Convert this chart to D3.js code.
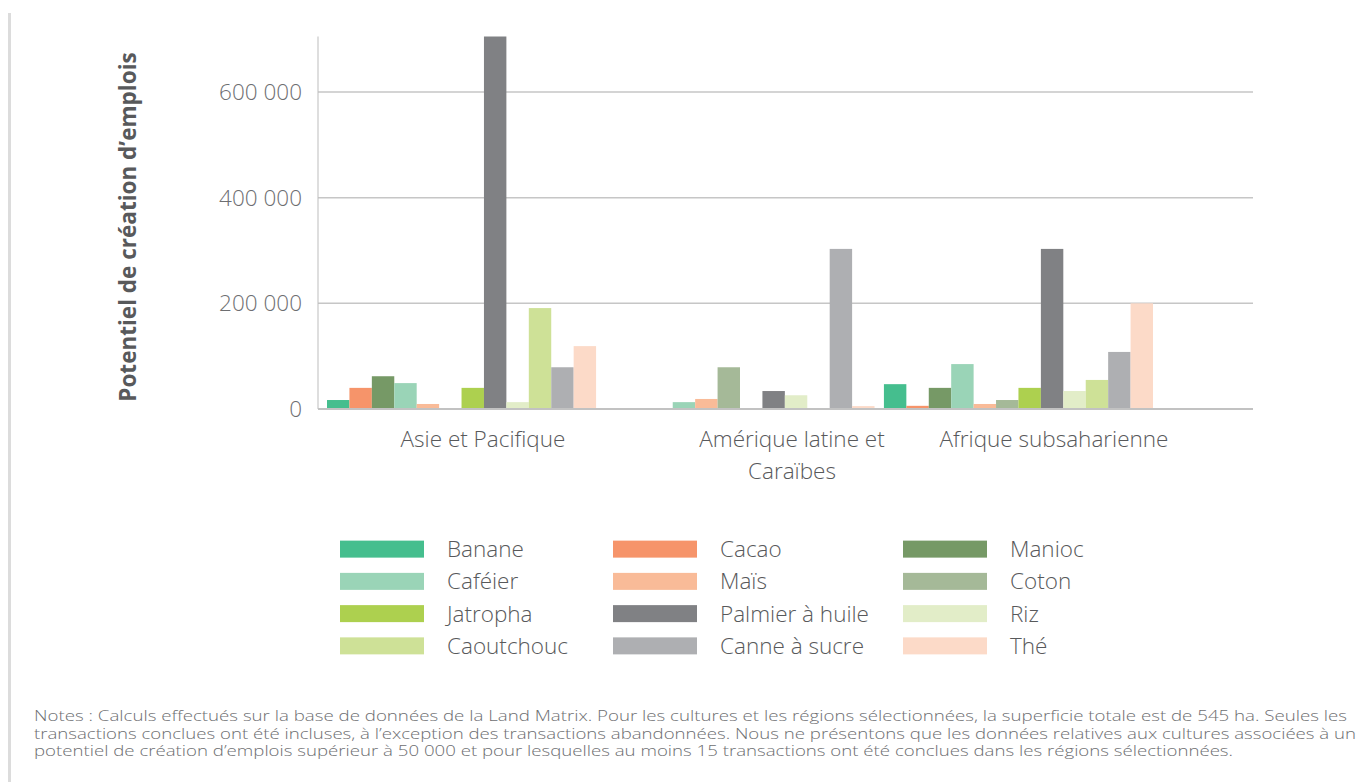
<!DOCTYPE html>
<html><head><meta charset="utf-8">
<script src="https://cdn.jsdelivr.net/npm/d3@7"></script>
<style>
body{margin:0;background:#fff}
svg{display:block}
text{font-family:"Open Sans","Noto Sans",sans-serif}
</style>
</head><body>
<svg id="chart" width="1360" height="782"></svg>
<script>
// ---- data ----
const regions = ["Asie et Pacifique", "Amérique latine et Caraïbes", "Afrique subsaharienne"];
const regionLabelLines = [["Asie et Pacifique"], ["Amérique latine et", "Caraïbes"], ["Afrique subsaharienne"]];
const crops = ["Banane", "Cacao", "Manioc", "Caféier", "Maïs", "Coton", "Jatropha", "Palmier à huile", "Riz", "Caoutchouc", "Canne à sucre", "Thé"];
const cropColors = ["#45be8e", "#f6946a", "#769966", "#9ad4b7", "#f9bb98", "#a5b998", "#add04f", "#808184", "#e2edc8", "#cee197", "#aeafb2", "#fcdac8"];
const asiePacifique = [17000, 40000, 62000, 49000, 9500, 0, 40000, 705000, 13000, 191000, 79000, 119000];
const ameriqueLatine = [0, 0, 0, 13000, 19000, 79000, 0, 34000, 26000, 0, 303000, 5500];
const afriqueSub = [47000, 6000, 40000, 85000, 9500, 17000, 40000, 303000, 34000, 55000, 108000, 200000];
const yTicks = [0, 200000, 400000, 600000];
const yTickLabels = ["0", "200 000", "400 000", "600 000"];
const yTitle = "Potentiel de création d’emplois";
const notes = [
  "Notes : Calculs effectués sur la base de données de la Land Matrix. Pour les cultures et les régions sélectionnées, la superficie totale est de 545 ha. Seules les",
  "transactions conclues ont été incluses, à l’exception des transactions abandonnées. Nous ne présentons que les données relatives aux cultures associées à un",
  "potentiel de création d’emplois supérieur à 50 000 et pour lesquelles au moins 15 transactions ont été conclues dans les régions sélectionnées."
];

const seriesByRegion = [asiePacifique, ameriqueLatine, afriqueSub];
const rows = [];
regions.forEach((r, ri) => crops.forEach((c, ci) => rows.push({region: r, crop: c, value: seriesByRegion[ri][ci], color: cropColors[ci]})));

// ---- layout ----
const svg = d3.select("#chart");
const plot = {left: 318, right: 1253, top: 36.5, bottom: 409};

const y = d3.scaleLinear().domain([0, 705000]).range([plot.bottom, plot.top]);
const x0 = d3.scaleBand().domain(regions).range([327, 1153]).paddingInner(0.0337).paddingOuter(0);
const x1 = d3.scaleBand().domain(crops).range([0, x0.bandwidth()]).padding(0);
const xLabel = d3.scaleOrdinal().domain(regions).range([483, 792, 1054]);

// left border
svg.append("rect").attr("x", 8).attr("y", 13).attr("width", 3).attr("height", 769).attr("fill", "#dcdcdc");

// gridlines
svg.append("g").selectAll("line").data(yTicks.filter(d => d > 0)).join("line")
  .attr("x1", plot.left).attr("x2", plot.right)
  .attr("y1", d => y(d)).attr("y2", d => y(d))
  .attr("stroke", "#c6c6c6").attr("stroke-width", 1.5);

// y axis line
svg.append("line").attr("x1", plot.left).attr("x2", plot.left).attr("y1", plot.top).attr("y2", plot.bottom)
  .attr("stroke", "#bdbdbd").attr("stroke-width", 1);

// y tick labels
svg.append("g").selectAll("text").data(yTicks).join("text")
  .attr("x", 302).attr("y", d => y(d)).attr("dy", "0.35em")
  .attr("text-anchor", "end").attr("font-size", 22.5).attr("font-weight", 300)
  .attr("fill", "#6d6e71").text((d, i) => yTickLabels[i]);

// bars
svg.append("g").selectAll("rect").data(rows.filter(d => d.value > 0)).join("rect")
  .attr("x", d => x0(d.region) + x1(d.crop))
  .attr("width", x1.bandwidth())
  .attr("y", d => y(d.value))
  .attr("height", d => y(0) - y(d.value))
  .attr("fill", d => d.color);

// baseline
svg.append("line").attr("x1", plot.left).attr("x2", plot.right).attr("y1", y(0)).attr("y2", y(0))
  .attr("stroke", "#c2c2c2").attr("stroke-width", 2);

// category labels
const cat = svg.append("g").selectAll("text").data(regions).join("text")
  .attr("x", d => xLabel(d)).attr("y", 447)
  .attr("text-anchor", "middle").attr("font-size", 22.5).attr("font-weight", 300).attr("fill", "#58595b");
cat.each(function(d, i) {
  d3.select(this).selectAll("tspan").data(regionLabelLines[i]).join("tspan")
    .attr("x", xLabel(d)).attr("dy", (t, j) => j === 0 ? 0 : 32).text(t => t);
});

// y title
svg.append("text").attr("transform", "translate(136,227) rotate(-90)")
  .attr("text-anchor", "middle").attr("font-size", 22.5).attr("font-weight", 700)
  .attr("fill", "#58595b").text(yTitle);

// legend
const legCol = d3.scaleOrdinal().domain([0, 1, 2]).range([340, 613, 903]);
const legRow = d3.scaleBand().domain([0, 1, 2, 3]).range([533, 662]);
const leg = svg.append("g").selectAll("g").data(crops).join("g")
  .attr("transform", (d, i) => `translate(${legCol(i % 3)},${legRow(Math.floor(i / 3)) + legRow.bandwidth() / 2})`);
leg.append("rect").attr("x", 0).attr("y", -8.5).attr("width", 84).attr("height", 17)
  .attr("fill", (d, i) => cropColors[i]);
leg.append("text").attr("x", 107).attr("y", 0).attr("dy", "0.35em")
  .attr("font-size", 22.5).attr("font-weight", 300).attr("fill", "#58595b").text(d => d);

// notes
const noteWidths = [1313, 1322, 1199];
svg.append("g").selectAll("text").data(notes).join("text")
  .attr("x", 34).attr("y", (d, i) => 721 + i * 17.5)
  .attr("font-size", 15).attr("font-weight", 300).attr("fill", "#6d6e71")
  .attr("textLength", (d, i) => noteWidths[i]).attr("lengthAdjust", "spacingAndGlyphs")
  .text(d => d);
</script>
</body></html>
